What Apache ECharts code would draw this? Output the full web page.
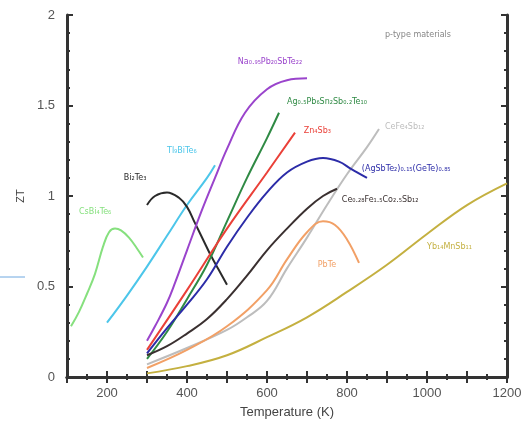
<!DOCTYPE html>
<html>
<head>
<meta charset="utf-8">
<script src="https://cdn.jsdelivr.net/npm/echarts@6/dist/echarts.min.js"></script>
<style>
  html, body { margin: 0; padding: 0; background: #fff; }
  #chart { width: 530px; height: 434px; }
</style>
</head>
<body>
<div id="chart"></div>
<script>
// ZT vs temperature, p-type materials
const csBi4Te6 = [[110, 0.28], [130, 0.36], [150, 0.46], [170, 0.57], [190, 0.72], [205, 0.8], [220, 0.82], [235, 0.81], [255, 0.77], [275, 0.71], [290, 0.66]]
const tl9BiTe6 = [[200, 0.3], [250, 0.45], [300, 0.61], [350, 0.78], [400, 0.95], [450, 1.1], [470, 1.17]]
const bi2Te3 = [[300, 0.95], [320, 1.0], [350, 1.02], [380, 0.99], [400, 0.94], [420, 0.85], [440, 0.76], [460, 0.67], [480, 0.59], [500, 0.51]]
const naPbSbTe = [[300, 0.2], [320, 0.28], [350, 0.41], [370, 0.52], [400, 0.7], [437, 0.92], [470, 1.1], [500, 1.26], [545, 1.46], [600, 1.59], [650, 1.64], [700, 1.65]]
const agPbSnSbTe = [[300, 0.1], [350, 0.25], [400, 0.43], [450, 0.62], [500, 0.86], [550, 1.1], [600, 1.32], [630, 1.46]]
const zn4Sb3 = [[300, 0.15], [400, 0.48], [500, 0.82], [600, 1.13], [670, 1.35]]
const tags = [[300, 0.13], [350, 0.27], [400, 0.4], [450, 0.54], [500, 0.72], [550, 0.88], [600, 1.02], [650, 1.13], [700, 1.19], [740, 1.21], [780, 1.19], [810, 1.15], [850, 1.1]]
const ceFeCoSb = [[300, 0.12], [350, 0.17], [400, 0.24], [450, 0.32], [500, 0.43], [550, 0.56], [600, 0.7], [650, 0.82], [700, 0.93], [740, 1.0], [775, 1.04]]
const ceFe4Sb12 = [[300, 0.07], [400, 0.16], [500, 0.26], [550, 0.33], [600, 0.42], [650, 0.6], [700, 0.77], [750, 0.95], [800, 1.12], [850, 1.27], [880, 1.37]]
const pbTe = [[300, 0.05], [400, 0.15], [500, 0.28], [600, 0.48], [650, 0.65], [700, 0.8], [740, 0.86], [770, 0.84], [800, 0.76], [830, 0.63]]
const yb14MnSb11 = [[300, 0.02], [400, 0.06], [500, 0.12], [600, 0.22], [700, 0.33], [800, 0.47], [900, 0.62], [1000, 0.79], [1100, 0.95], [1200, 1.07]]

const xTicks = [200, 400, 600, 800, 1000, 1200]
const yTicks = [0, 0.5, 1, 1.5, 2]

const curves = [
  { name: 'CsBi₄Te₆', data: csBi4Te6, color: '#86e07e', label: [130, 0.91] },
  { name: 'Tl₉BiTe₆', data: tl9BiTe6, color: '#4cc6ea', label: [350, 1.25] },
  { name: 'Bi₂Te₃', data: bi2Te3, color: '#2a2a2a', label: [242, 1.1] },
  { name: 'Na₀.₉₅Pb₂₀SbTe₂₂', data: naPbSbTe, color: '#9a44cc', label: [527, 1.74] },
  { name: 'Ag₀.₅Pb₆Sn₂Sb₀.₂Te₁₀', data: agPbSnSbTe, color: '#2f8a44', label: [650, 1.52] },
  { name: 'Zn₄Sb₃', data: zn4Sb3, color: '#ea4038', label: [692, 1.36] },
  { name: 'CeFe₄Sb₁₂', data: ceFe4Sb12, color: '#bdbdbd', label: [895, 1.38] },
  { name: '(AgSbTe₂)₀.₁₅(GeTe)₀.₈₅', data: tags, color: '#2c2ca8', label: [837, 1.15] },
  { name: 'Ce₀.₂₈Fe₁.₅Co₂.₅Sb₁₂', data: ceFeCoSb, color: '#3a3030', label: [787, 0.98] },
  { name: 'PbTe', data: pbTe, color: '#f2a066', label: [727, 0.62] },
  { name: 'Yb₁₄MnSb₁₁', data: yb14MnSb11, color: '#c4b040', label: [1000, 0.72] }
]

const chart = echarts.init(document.getElementById('chart'))

const series = curves.map((c) => ({
  name: c.name,
  type: 'line',
  data: c.data,
  smooth: 0.4,
  showSymbol: false,
  lineStyle: { color: c.color, width: 2 },
  markPoint: {
    symbol: 'circle',
    symbolSize: 0,
    data: [{ coord: c.label }],
    label: {
      show: true,
      position: 'right',
      distance: 0,
      formatter: c.name,
      color: c.color,
      fontSize: 8,
      fontFamily: 'DejaVu Sans'
    }
  },
  animation: false
}))

// note in the upper right corner
series.push({
  type: 'scatter',
  data: [[895, 1.89]],
  symbolSize: 0,
  label: {
    show: true,
    position: 'right',
    distance: 0,
    formatter: 'p-type materials',
    color: '#666',
    fontSize: 8,
    fontFamily: 'DejaVu Sans'
  },
  animation: false
})

const axisLine = { show: true, lineStyle: { color: '#333', width: 3 } }

chart.setOption({
  backgroundColor: '#fff',
  grid: { left: 67, right: 23, top: 15, bottom: 57 },
  xAxis: [{
    type: 'value',
    min: 100,
    max: 1200,
    interval: 100,
    name: 'Temperature (K)',
    nameLocation: 'middle',
    nameGap: 29,
    nameTextStyle: { color: '#444', fontSize: 13, fontFamily: 'Liberation Sans' },
    axisLine: axisLine,
    axisTick: { inside: true, length: 6, lineStyle: { color: '#333', width: 2 } },
    minorTick: { show: true, splitNumber: 2, length: 3, lineStyle: { color: '#333', width: 2 } },
    splitLine: { show: false },
    axisLabel: {
      color: '#555',
      fontSize: 13,
      fontFamily: 'Liberation Sans',
      margin: 10,
      formatter: (v) => (xTicks.includes(v) ? String(v) : '')
    }
  }, {
    type: 'value',
    position: 'top',
    min: 100,
    max: 1200,
    interval: 100,
    axisLine: axisLine,
    axisTick: { inside: true, length: 6, lineStyle: { color: '#333', width: 2 } },
    minorTick: { show: true, splitNumber: 2, length: 3, lineStyle: { color: '#333', width: 2 } },
    splitLine: { show: false },
    axisLabel: { show: false }
  }],
  yAxis: [{
    type: 'value',
    min: 0,
    max: 2,
    interval: 0.5,
    name: 'ZT',
    nameLocation: 'middle',
    nameGap: 24,
    nameRotate: 90,
    nameTextStyle: { color: '#444', fontSize: 11, fontFamily: 'Liberation Sans' },
    axisLine: axisLine,
    axisTick: { inside: true, length: 6, lineStyle: { color: '#333', width: 2 } },
    minorTick: { show: true, splitNumber: 5, length: 3, lineStyle: { color: '#333', width: 2 } },
    splitLine: { show: false },
    axisLabel: {
      color: '#555',
      fontSize: 13,
      fontFamily: 'Liberation Sans',
      margin: 12,
      formatter: (v) => (yTicks.includes(v) ? String(v) : '')
    }
  }, {
    type: 'value',
    position: 'right',
    min: 0,
    max: 2,
    interval: 0.5,
    axisLine: axisLine,
    axisTick: { inside: true, length: 6, lineStyle: { color: '#333', width: 2 } },
    minorTick: { show: true, splitNumber: 5, length: 3, lineStyle: { color: '#333', width: 2 } },
    splitLine: { show: false },
    axisLabel: { show: false }
  }],
  graphic: [{
    type: 'line',
    shape: { x1: 0, y1: 277, x2: 25, y2: 277 },
    style: { stroke: '#6fa8e0', lineWidth: 1 }
  }],
  series: series
})
</script>
</body>
</html>
